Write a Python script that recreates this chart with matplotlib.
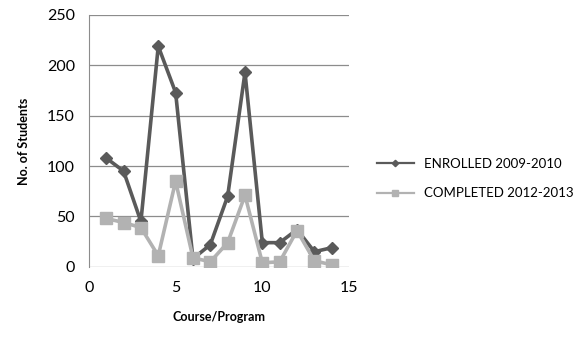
import matplotlib.pyplot as plt

# values
course = [1, 2, 3, 4, 5, 6, 7, 8, 9, 10, 11, 12, 13, 14]
enrolled = [108, 95, 45, 219, 173, 8, 22, 70, 193, 24, 24, 37, 15, 19]
completed = [48, 44, 39, 11, 85, 9, 5, 24, 71, 4, 5, 36, 6, 2]

plt.rcParams['font.family'] = ['Lato', 'DejaVu Sans']

fig = plt.figure(figsize=(5.77, 3.47), dpi=100)
ax = fig.add_axes([0.154, 0.231, 0.451, 0.726])

ax.plot(course, enrolled, color='#5a5a5a', lw=2.6, marker='D', ms=6.5,
        label='ENROLLED 2009-2010', zorder=2)
ax.plot(course, completed, color='#b2b2b2', lw=2.6, marker='s', ms=8.5,
        label='COMPLETED 2012-2013', zorder=3)

ax.set_xlim(0, 15)
ax.set_ylim(0, 250)
ax.set_xticks([0, 5, 10, 15])
ax.set_yticks(range(0, 251, 50))
ax.grid(axis='y', color='#8c8c8c', lw=0.9)
ax.set_axisbelow(True)
ax.tick_params(length=0, labelsize=11.5, pad=10)
for s in ['top', 'right', 'bottom']:
    ax.spines[s].set_visible(False)
ax.spines['left'].set_color('#8c8c8c')

ax.set_xlabel('Course/Program', fontsize=9, fontweight='bold', labelpad=12)
ax.set_ylabel('No. of Students', fontsize=9, fontweight='bold', labelpad=12)

leg = ax.legend(loc='center left', bbox_to_anchor=(1.06, 0.35), frameon=False,
                fontsize=9.5, handlelength=2.8, markerscale=0.5, labelspacing=1.3)
for h in leg.legend_handles:
    h.set_linewidth(1.6)

fig.savefig('out.png', dpi=100)
